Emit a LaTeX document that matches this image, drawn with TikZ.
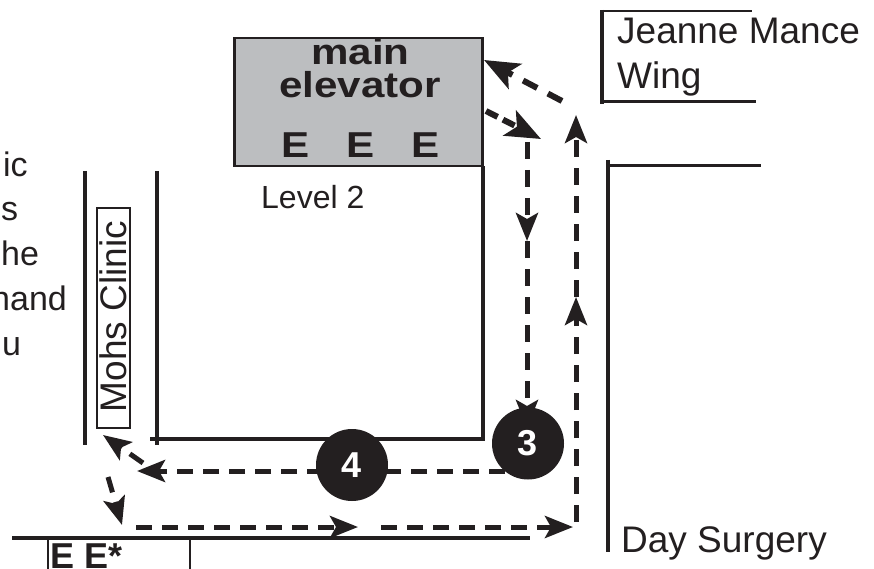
\documentclass[tikz,border=0pt]{standalone}
\usepackage{fontspec}
\setmainfont{Liberation Sans}
\usetikzlibrary{arrows.meta}
\definecolor{ink}{HTML}{231F20}
\definecolor{liftgray}{HTML}{BCBEC0}
\newcommand{\fsz}[1]{\fontsize{#1}{#1}\selectfont}
\newcommand{\wide}[1]{\scalebox{1.17}[1]{#1}}
\tikzset{
  wall/.style={draw=ink,line width=3.6pt},
  thinwall/.style={draw=ink,line width=2.6pt},
  route/.style={draw=ink,line width=5pt,dash pattern=on 16pt off 10pt,
    -{Stealth[length=28pt,width=22pt,inset=6pt]}},
  uproute/.style={route,dash pattern=on 17pt off 11pt},
  bigroute/.style={draw=ink,line width=6pt,dash pattern=on 16pt off 12pt,
    -{Stealth[length=35pt,width=28pt,inset=8pt]}},
  label/.style={text=ink,inner sep=0pt,anchor=base west},
  stepdot/.style={circle,fill=ink,draw=none,minimum size=72pt,inner sep=0pt,text=white,font=\fsz{36}\bfseries},
}
\begin{document}
\begin{tikzpicture}[x=1pt,y=-1pt]
\useasboundingbox (0,0) rectangle (874,569);
\clip (0,0) rectangle (874,569);
% left, clipped text
\node[label,font=\fsz{34}] at (3,177) {ic};
\node[label,font=\fsz{34}] at (1,221) {s};
\node[label,font=\fsz{34}] at (1,265) {he};
\node[label,font=\fsz{34}] at (-9,310) {hand};
\node[label,font=\fsz{34}] at (2,355) {u};
% walls
\draw[wall] (85,171) -- (85,445);
\draw[wall] (157,171) -- (157,445);
\draw[wall] (150,439) -- (483,439) -- (483,166);
\draw[wall] (12,538) -- (530,538);
\draw[wall] (608,160) -- (608,552);
\draw[thinwall] (608,165.5) -- (761,165.5);
\draw[wall] (602,10) -- (602,104);
\draw[thinwall] (600,11) -- (752,11);
\draw[thinwall] (602,101.5) -- (756,101.5);
\draw[draw=ink,line width=1.2pt] (48,538) -- (48,569);
\draw[draw=ink,line width=1.2pt] (190,538) -- (190,569);
% main elevator
\node[draw=ink,line width=2.6pt,fill=liftgray,minimum width=248pt,minimum height=128pt,inner sep=0pt] (lift) at (358.5,102) {};
\node[label,anchor=base,font=\fsz{36}\bfseries] (t1) at (360.5,65) {\wide{main}};
\node[label,anchor=base,font=\fsz{36}\bfseries] (t2) at (360,98) {\wide{elevator}};
\node[label,font=\fsz{36}\bfseries] at (281,157.5) {\wide{E}};
\node[label,font=\fsz{36}\bfseries] at (346,157.5) {\wide{E}};
\node[label,font=\fsz{36}\bfseries] at (411,157.5) {\wide{E}};
\node[label,font=\fsz{32}] at (261,209) {Level 2};
% labels
\node[label,font=\fsz{37}] at (617,44) {Jeanne Mance};
\node[label,font=\fsz{37}] at (617,89) {Wing};
\node[label,font=\fsz{37}] at (621,552) {Day Surgery};
\node[label,font=\fsz{36}\bfseries] at (50,568) {E E*};
\node[draw=ink,line width=1.6pt,minimum width=33pt,minimum height=220pt,inner sep=0pt] (mohs) at (113.5,318) {};
\node[text=ink,font=\fsz{37},rotate=90,inner sep=0pt] (mohst) at (113.5,316.5) {Mohs Clinic};
% route coordinates
\coordinate (a1) at (576,522);
\coordinate (a2) at (576,297);
\coordinate (a3) at (576,115);
\coordinate (b1) at (136,527);
\coordinate (b2) at (358,527);
\coordinate (b4) at (381,527);
\coordinate (b3) at (573,527);
\coordinate (c1) at (486,111);
\coordinate (c2) at (541,139);
\coordinate (d1) at (527,142);
\coordinate (d2) at (527,241);
\coordinate (d3) at (527,428);
\coordinate (e1) at (505,471);
\coordinate (e2) at (137,471);
\coordinate (f1) at (562,101);
\coordinate (f2) at (484,60);
\coordinate (g1) at (143,463);
\coordinate (g2) at (103,435);
\coordinate (h1) at (108,477);
\coordinate (h2) at (122,525);
% routes
\draw[uproute] (a1) -- (a2);
\draw[uproute] (a2) -- (a3);
\draw[route] (b1) -- (b2);
\draw[route] (b4) -- (b3);
\draw[bigroute,dash pattern=on 13pt off 6pt] (c1) -- (c2);
\draw[uproute] (d1) -- (d2);
\draw[uproute] (d2) -- (d3);
\draw[route] (e1) -- (e2);
\draw[bigroute] (f1) -- (f2);
\draw[route] (g1) -- (g2);
\draw[route] (h1) -- (h2);
% step markers
\node[stepdot] (s3) at (528,443.5) {3};
\node[stepdot] (s4) at (352,465) {4};
\end{tikzpicture}
\end{document}
